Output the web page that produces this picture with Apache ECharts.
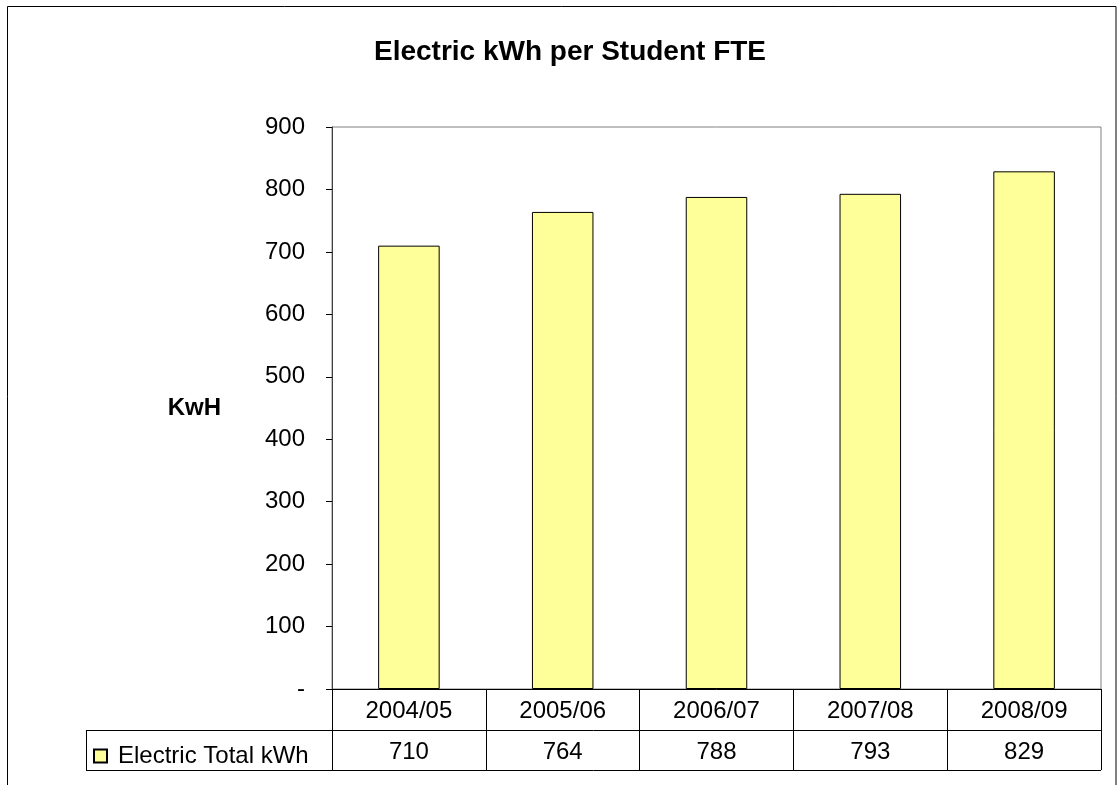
<!DOCTYPE html>
<html>
<head>
<meta charset="utf-8">
<script src="https://cdn.jsdelivr.net/npm/echarts@6/dist/echarts.min.js"></script>
<style>
  html, body { margin: 0; padding: 0; background: #fff; }
  #chart { width: 1117px; height: 785px; }
</style>
</head>
<body>
<div id="chart"></div>
<script>
// Electric use per full-time-equivalent student, by academic year
const years = ['2004/05', '2005/06', '2006/07', '2007/08', '2008/09'];
const electricKwh = [710, 764, 788, 793, 829];
const seriesName = 'Electric Total kWh';
const yTicks = { min: 0, max: 900, step: 100 };

const FONT = 'Liberation Sans, Arial, sans-serif';
const grid = { left: 332, top: 127, right: 16, bottom: 96 };
const W = 1117, H = 785;
const plotRight = W - grid.right;
const axisY = H - grid.bottom;          // category axis line
const rowH1 = 41, rowH2 = 40;           // data table rows
const tableLeft = 86;

const chart = echarts.init(document.getElementById('chart'), null, { renderer: 'canvas' });

chart.setOption({
  backgroundColor: '#ffffff',
  animation: false,
  title: {
    text: 'Electric kWh per Student FTE',
    left: 565,
    top: 33,
    textAlign: 'center',
    textStyle: { fontFamily: FONT, fontSize: 28, fontWeight: 'bold', color: '#000' }
  },
  legend: {
    data: [seriesName],
    left: 88,
    top: 739,
    itemWidth: 13,
    itemHeight: 13,
    icon: 'rect',
    textStyle: { fontFamily: FONT, fontSize: 24, color: '#000', padding: [0, 0, 0, 6] }
  },
  grid: {
    left: grid.left, top: grid.top, right: grid.right, bottom: grid.bottom,
    show: true, borderColor: '#808080', borderWidth: 1, backgroundColor: '#fff'
  },
  xAxis: [
    {
      type: 'category',
      data: years,
      position: 'bottom',
      axisLine: { show: true, lineStyle: { color: '#000', width: 1 } },
      axisTick: { show: true, length: rowH1 + rowH2, lineStyle: { color: '#000' } },
      axisLabel: { interval: 0, margin: 10, fontFamily: FONT, fontSize: 24, color: '#000' },
      splitLine: { show: false }
    },
    {
      type: 'category',
      data: electricKwh.map(String),
      position: 'bottom',
      offset: rowH1,
      axisLine: { show: false },
      axisTick: { show: false },
      axisLabel: { interval: 0, margin: 10, fontFamily: FONT, fontSize: 24, color: '#000' },
      splitLine: { show: false }
    }
  ],
  yAxis: {
    type: 'value',
    min: yTicks.min,
    max: yTicks.max,
    interval: yTicks.step,
    name: 'KwH',
    nameLocation: 'middle',
    nameRotate: 0,
    nameGap: 111,
    nameTextStyle: { fontFamily: FONT, fontSize: 24, fontWeight: 'bold', color: '#000' },
    axisLine: { show: true, lineStyle: { color: '#404040', width: 1 } },
    axisTick: { show: true, inside: false, length: 6, lineStyle: { color: '#000' } },
    axisLabel: {
      margin: 27,
      fontFamily: FONT, fontSize: 24, color: '#000',
      formatter: v => (v === 0 ? '-' : String(v))
    },
    splitLine: { show: false }
  },
  series: [{
    name: seriesName,
    type: 'bar',
    xAxisIndex: 0,
    data: electricKwh,
    barWidth: '40%',
    itemStyle: { color: '#FFFF99', borderColor: '#000', borderWidth: 1 }
  }],
  graphic: [
    // outer chart frame
    { type: 'rect', shape: { x: 7.5, y: 6.5, width: 1108.5, height: 800 }, style: { fill: null, stroke: '#000', lineWidth: 1 }, silent: true },
    // data table rules
    { type: 'line', shape: { x1: tableLeft, y1: axisY + rowH1 + 0.5, x2: plotRight, y2: axisY + rowH1 + 0.5 }, style: { stroke: '#000', lineWidth: 1 } },
    { type: 'line', shape: { x1: tableLeft, y1: axisY + rowH1 + rowH2 + 0.5, x2: plotRight, y2: axisY + rowH1 + rowH2 + 0.5 }, style: { stroke: '#000', lineWidth: 1 } },
    { type: 'line', shape: { x1: tableLeft + 0.5, y1: axisY + rowH1, x2: tableLeft + 0.5, y2: axisY + rowH1 + rowH2 }, style: { stroke: '#000', lineWidth: 1 } }
  ]
});
</script>
</body>
</html>
